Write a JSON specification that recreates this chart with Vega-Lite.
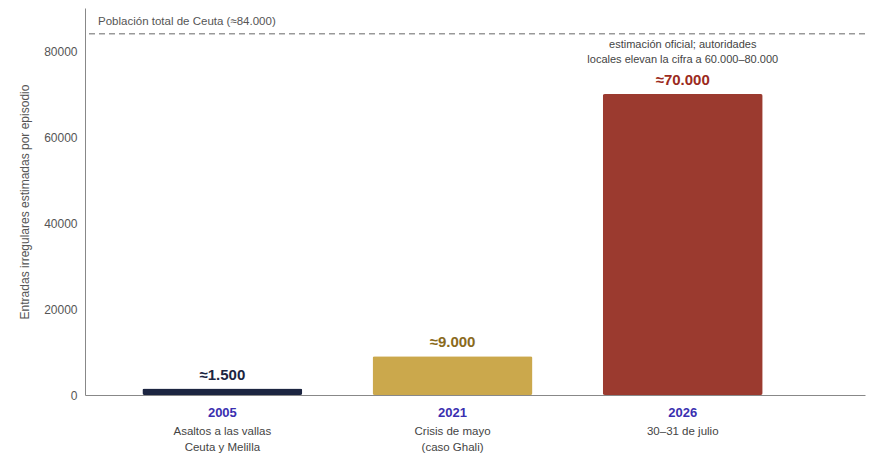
{
  "$schema": "https://vega.github.io/schema/vega-lite/v6.json",
  "width": 880,
  "height": 464,
  "autosize": {"type": "fit", "contains": "padding"},
  "padding": {"left": 18, "right": 14, "top": 8, "bottom": 10},
  "config": {"view": {"stroke": null}, "font": "Liberation Sans"},
  "datasets": {
    "bars": [
      {"pos": 0, "year": "2005", "value": 1500, "label": "≈1.500", "sub": ["Asaltos a las vallas", "Ceuta y Melilla"], "fill": "#1c2541", "tcolor": "#1c2541"},
      {"pos": 1, "year": "2021", "value": 9000, "label": "≈9.000", "sub": ["Crisis de mayo", "(caso Ghali)"], "fill": "#cba84c", "tcolor": "#8a6a1c"},
      {"pos": 2, "year": "2026", "value": 70000, "label": "≈70.000", "sub": ["30–31 de julio"], "fill": "#9b3a2f", "tcolor": "#9b2a20"}
    ]
  },
  "layer": [
    {
      "data": {"name": "bars"},
      "mark": {"type": "bar", "size": 160, "cornerRadius": 2},
      "encoding": {
        "x": {"field": "pos", "type": "quantitative", "scale": {"domain": [-0.575, 2.77], "nice": false, "zero": false}, "axis": {"labels": false, "ticks": false, "grid": false, "title": null, "domainColor": "#888"}},
        "y": {"field": "value", "type": "quantitative", "scale": {"domain": [0, 90000], "nice": false}, "axis": {"values": [0, 20000, 40000, 60000, 80000], "format": "d", "grid": false, "ticks": false, "domainColor": "#888", "labelColor": "#555", "labelFontSize": 12, "labelPadding": 8, "title": "Entradas irregulares estimadas por episodio", "titleColor": "#555", "titleFontWeight": "normal", "titleFontSize": 12, "titlePadding": 12}},
        "color": {"field": "fill", "type": "nominal", "scale": null}
      }
    },
    {
      "data": {"name": "bars"},
      "mark": {"type": "text", "dy": -14, "fontSize": 15, "fontWeight": "bold"},
      "encoding": {
        "x": {"field": "pos", "type": "quantitative"},
        "y": {"field": "value", "type": "quantitative"},
        "text": {"field": "label"},
        "color": {"field": "tcolor", "type": "nominal", "scale": null}
      }
    },
    {
      "data": {"name": "bars"},
      "mark": {"type": "text", "dy": 18, "fontSize": 13, "fontWeight": "bold", "color": "#3a2fb0"},
      "encoding": {
        "x": {"field": "pos", "type": "quantitative"},
        "y": {"datum": 0},
        "text": {"field": "year"}
      }
    },
    {
      "data": {"name": "bars"},
      "mark": {"type": "text", "dy": 37, "baseline": "middle", "fontSize": 11.5, "color": "#444", "lineHeight": 16},
      "encoding": {
        "x": {"field": "pos", "type": "quantitative"},
        "y": {"datum": 0},
        "text": {"field": "sub"}
      }
    },
    {
      "data": {"values": [{"v": 84000}]},
      "mark": {"type": "rule", "strokeDash": [6, 4], "color": "#999", "strokeWidth": 1.5},
      "encoding": {"y": {"field": "v", "type": "quantitative"}}
    },
    {
      "data": {"values": [{"pos": -0.54, "v": 84000, "t": "Población total de Ceuta (≈84.000)"}]},
      "mark": {"type": "text", "align": "left", "dy": -12, "fontSize": 11.5, "color": "#555"},
      "encoding": {
        "x": {"field": "pos", "type": "quantitative"},
        "y": {"field": "v", "type": "quantitative"},
        "text": {"field": "t"}
      }
    },
    {
      "data": {"values": [{"pos": 2, "v": 70000, "t": ["estimación oficial; autoridades", "locales elevan la cifra a 60.000–80.000"]}]},
      "mark": {"type": "text", "dy": -44, "fontSize": 11, "color": "#444", "lineHeight": 15, "baseline": "bottom"},
      "encoding": {
        "x": {"field": "pos", "type": "quantitative"},
        "y": {"field": "v", "type": "quantitative"},
        "text": {"field": "t"}
      }
    }
  ]
}
